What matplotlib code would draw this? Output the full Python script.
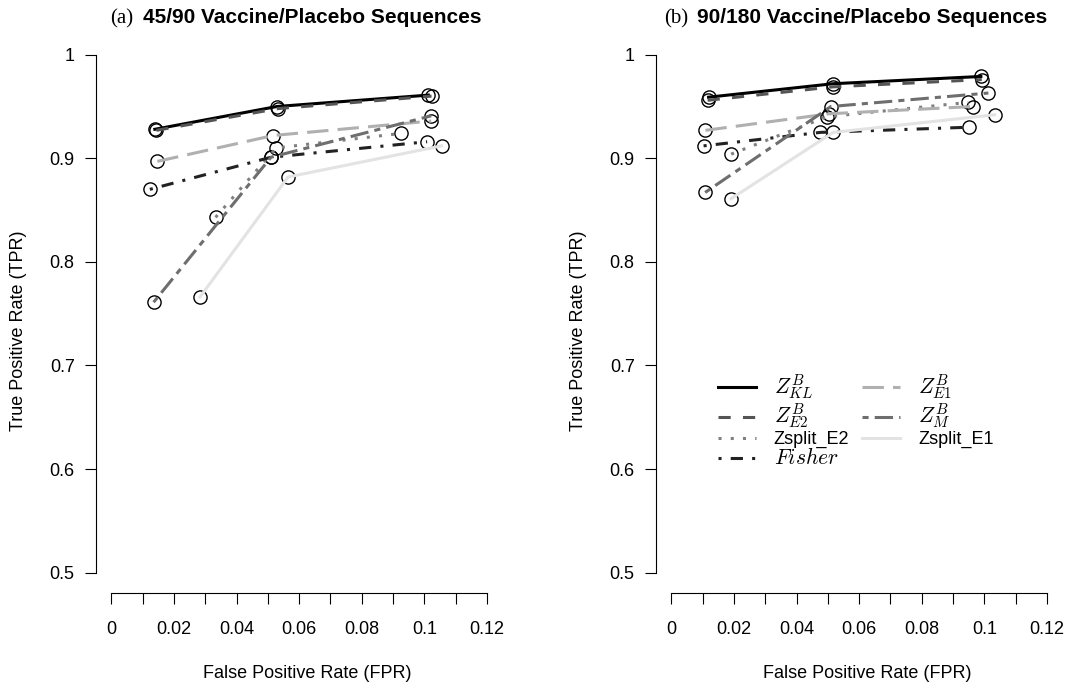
import matplotlib.pyplot as plt

plt.rcParams['font.family'] = ['Liberation Sans', 'DejaVu Sans']
plt.rcParams['mathtext.fontset'] = 'cm'

# panel (a): 45/90 sequences
kl_fpr_a = [0.0139, 0.0529, 0.1013]
kl_tpr_a = [0.928, 0.950, 0.961]
e2_fpr_a = [0.0144, 0.0533, 0.1023]
e2_tpr_a = [0.927, 0.948, 0.960]
se2_fpr_a = [0.0333, 0.0527, 0.0925]
se2_tpr_a = [0.843, 0.910, 0.924]
fis_fpr_a = [0.0123, 0.0510, 0.1009]
fis_tpr_a = [0.870, 0.901, 0.916]
e1_fpr_a = [0.0147, 0.0517, 0.1022]
e1_tpr_a = [0.897, 0.922, 0.936]
m_fpr_a = [0.0135, 0.0510, 0.1022]
m_tpr_a = [0.761, 0.901, 0.941]
se1_fpr_a = [0.0283, 0.0565, 0.1055]
se1_tpr_a = [0.766, 0.882, 0.912]

# panel (b): 90/180 sequences
kl_fpr_b = [0.0119, 0.0517, 0.0989]
kl_tpr_b = [0.959, 0.972, 0.979]
e2_fpr_b = [0.0116, 0.0517, 0.0992]
e2_tpr_b = [0.956, 0.969, 0.976]
se2_fpr_b = [0.0191, 0.0496, 0.0949]
se2_tpr_b = [0.904, 0.940, 0.954]
fis_fpr_b = [0.0103, 0.0476, 0.0952]
fis_tpr_b = [0.912, 0.925, 0.930]
e1_fpr_b = [0.0109, 0.0505, 0.0965]
e1_tpr_b = [0.927, 0.943, 0.950]
m_fpr_b = [0.0108, 0.0510, 0.1013]
m_tpr_b = [0.867, 0.950, 0.963]
se1_fpr_b = [0.0191, 0.0517, 0.1033]
se1_tpr_b = [0.861, 0.925, 0.942]

labels = [r'$Z^B_{KL}$', r'$Z^B_{E2}$', 'Zsplit_E2', r'$Fisher$',
          r'$Z^B_{E1}$', r'$Z^B_M$', 'Zsplit_E1']
colors = ['#000000', '#555555', '#808080', '#222222', '#b0b0b0', '#6e6e6e', '#e3e3e3']
dashes = [None, (4, 4), (1, 3), (1, 3, 4, 3), (7, 3), (2, 2, 6, 2), None]

xticks = [i / 100 for i in range(13)]
xticklabels = ['0', '', '0.02', '', '0.04', '', '0.06', '', '0.08', '', '0.1', '', '0.12']
yticks = [0.5, 0.6, 0.7, 0.8, 0.9, 1.0]
yticklabels = ['0.5', '0.6', '0.7', '0.8', '0.9', '1']

panels = [
    ('(a)', '45/90 Vaccine/Placebo Sequences',
     [(kl_fpr_a, kl_tpr_a), (e2_fpr_a, e2_tpr_a), (se2_fpr_a, se2_tpr_a), (fis_fpr_a, fis_tpr_a),
      (e1_fpr_a, e1_tpr_a), (m_fpr_a, m_tpr_a), (se1_fpr_a, se1_tpr_a)]),
    ('(b)', '90/180 Vaccine/Placebo Sequences',
     [(kl_fpr_b, kl_tpr_b), (e2_fpr_b, e2_tpr_b), (se2_fpr_b, se2_tpr_b), (fis_fpr_b, fis_tpr_b),
      (e1_fpr_b, e1_tpr_b), (m_fpr_b, m_tpr_b), (se1_fpr_b, se1_tpr_b)]),
]

W, H = 1068, 685
fig = plt.figure(figsize=(W / 100, H / 100), dpi=100)

for k, (tag, title, series) in enumerate(panels):
    left = 95.7 + 560 * k
    ax = fig.add_axes([left / W, 91.7 / H, 422.5 / W, 559.3 / H])
    handles = []
    for (x, y), c, d in zip(series, colors, dashes):
        ax.plot(x, y, 'o', ms=9.5, mfc='none', mec='black', mew=1.0, zorder=2)
        ln, = ax.plot(x, y, color=c, lw=2.2, zorder=3)
        if d is not None:
            ln.set_dashes(d)
        handles.append(ln)

    ax.set_xlim(-0.005, 0.130)
    ax.set_ylim(0.48, 1.02)
    for s in ['top', 'right']:
        ax.spines[s].set_visible(False)
    ax.spines['left'].set_bounds(0.5, 1.0)
    ax.spines['bottom'].set_bounds(0, 0.12)
    ax.spines['left'].set_linewidth(0.8)
    ax.spines['bottom'].set_linewidth(0.8)
    ax.set_xticks(xticks)
    ax.set_xticklabels(xticklabels)
    ax.set_yticks(yticks)
    ax.set_yticklabels(yticklabels)
    ax.tick_params(axis='both', length=7.6, width=0.8, labelsize=13)
    ax.tick_params(axis='x', pad=12)
    ax.tick_params(axis='y', pad=7.5)

    ax.set_xlabel('False Positive Rate (FPR)', fontsize=13)
    ax.xaxis.set_label_coords(0.5, -0.128)
    ax.set_ylabel('True Positive Rate (TPR)', fontsize=13)
    ax.yaxis.set_label_coords(-0.163, 0.47)

    x0 = 110 + 554 * k
    fig.text(x0 / W, 1 - 23.3 / H, tag, family='Liberation Serif', fontsize=15, va='baseline')
    fig.text((x0 + 33) / W, 1 - 23.3 / H, title, fontsize=15, fontweight='bold', va='baseline')

    if k == 1:
        leg = ax.legend(handles, labels, ncol=2, frameon=False, fontsize=13,
                        loc='upper left', bbox_to_anchor=(0.147, 0.395), borderaxespad=0,
                        borderpad=0, handlelength=2.1, handletextpad=1.0,
                        columnspacing=0.7, labelspacing=0.0)
        for t in leg.get_texts():
            if t.get_text().startswith('$'):
                t.set_fontsize(15.5)

fig.savefig('out.png', dpi=100)
